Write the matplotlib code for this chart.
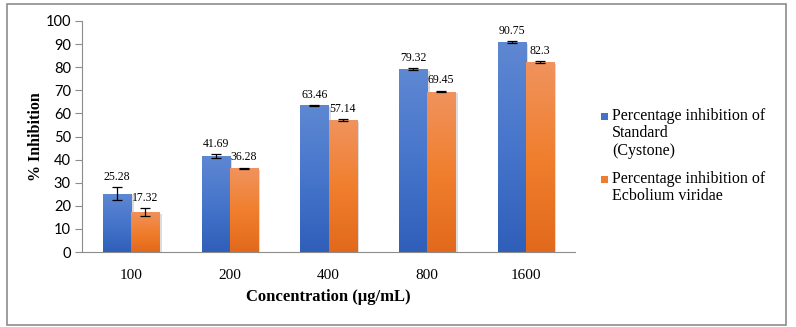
import numpy as np
import matplotlib
matplotlib.use("Agg")
import matplotlib.pyplot as plt
from matplotlib.patches import Rectangle
from matplotlib.colors import LinearSegmentedColormap

categories = ["100", "200", "400", "800", "1600"]
standard = [25.28, 41.69, 63.46, 79.32, 90.75]
standard_err = [2.9, 0.8, 0.3, 0.4, 0.4]
ecbolium = [17.32, 36.28, 57.14, 69.45, 82.3]
ecbolium_err = [1.6, 0.3, 0.3, 0.4, 0.3]
series_names = ["Percentage inhibition of\nStandard\n(Cystone)",
                "Percentage inhibition of\nEcbolium viridae"]
series_colors = ["#4472c4", "#ed7d31"]

SERIF = "Liberation Serif"
SANS = "Lato"

fig = plt.figure(figsize=(7.96, 3.27), dpi=100)
fig.patch.set_facecolor("white")
fig.patches.append(Rectangle((7/796, 2/327), 779/796, 321/327, transform=fig.transFigure,
                             fill=False, edgecolor="#8c8c8c", linewidth=1.2))

ax = fig.add_axes([82/796, 1-252/327, 493/796, 231/327])
x = np.arange(len(categories))
w = 0.285

blue_cmap = LinearSegmentedColormap.from_list("b", ["#2f5fb9", "#4675cb", "#5f88d2"])
orange_cmap = LinearSegmentedColormap.from_list("o", ["#e2691b", "#f07f2e", "#f0935e"])

def grad_bars(xpos, vals, cmap, color):
    bars = ax.bar(xpos, vals, width=w, color=color, zorder=2)
    for b in bars:
        x0, y0 = b.get_x(), b.get_y()
        bw, bh = b.get_width(), b.get_height()
        ax.add_patch(Rectangle((x0 + 0.025, y0), bw, bh - 0.8, color="#dcdcdc", zorder=1, lw=0))
        grad = np.linspace(0, 1, 256).reshape(-1, 1)
        im = ax.imshow(grad, cmap=cmap, extent=[x0, x0 + bw, y0, y0 + bh], origin="lower",
                       aspect="auto", zorder=3, vmin=0, vmax=1)
        im.set_clip_path(b)
    return bars

grad_bars(x - w/2, standard, blue_cmap, series_colors[0])
grad_bars(x + w/2, ecbolium, orange_cmap, series_colors[1])
ax.errorbar(x - w/2, standard, yerr=standard_err, fmt="none", ecolor="black",
            elinewidth=0.9, capsize=3.5, capthick=0.9, zorder=4)
ax.errorbar(x + w/2, ecbolium, yerr=ecbolium_err, fmt="none", ecolor="black",
            elinewidth=0.9, capsize=3.5, capthick=0.9, zorder=4)

for xi, v, e in zip(x - w/2, standard, standard_err):
    ax.text(xi, v + e + 1.8, f"{v:g}", ha="center", va="bottom", fontsize=8.5, family=SERIF)
for xi, v, e in zip(x + w/2, ecbolium, ecbolium_err):
    ax.text(xi, v + e + 1.8, f"{v:g}", ha="center", va="bottom", fontsize=8.5, family=SERIF)

ax.set_xlim(-0.5, len(categories) - 0.5)
ax.set_ylim(0, 100)
ax.set_yticks(np.arange(0, 101, 10))
ax.set_xticks(x)
ax.set_xticklabels(categories, family=SERIF, fontsize=11)
for lab in ax.get_yticklabels():
    lab.set_family(SANS)
    lab.set_fontsize(10.5)
ax.tick_params(axis="x", length=0, pad=12)
ax.tick_params(axis="y", length=5, color="#8c8c8c", pad=3)
for s in ["top", "right"]:
    ax.spines[s].set_visible(False)
ax.spines["left"].set_color("#8c8c8c")
ax.spines["bottom"].set_color("#8c8c8c")
ax.set_xlabel("Concentration (µg/mL)", family=SERIF, fontsize=12, fontweight="bold", labelpad=5)
ax.set_ylabel("% Inhibition", family=SERIF, fontsize=11.5, fontweight="bold")
ax.yaxis.set_label_coords(-0.078, 0.5)

# legend (markers aligned with the first line of each entry)
entry_tops = [108, 171]
for name, col, top in zip(series_names, series_colors, entry_tops):
    fig.patches.append(Rectangle((601/796, 1-(top+12)/327), 7/796, 7/327, transform=fig.transFigure,
                                 color=col, lw=0))
    fig.text(612/796, 1-top/327, name, ha="left", va="top", family=SERIF, fontsize=11.5,
             linespacing=1.12, multialignment="left")

fig.savefig("out.png", dpi=100)
